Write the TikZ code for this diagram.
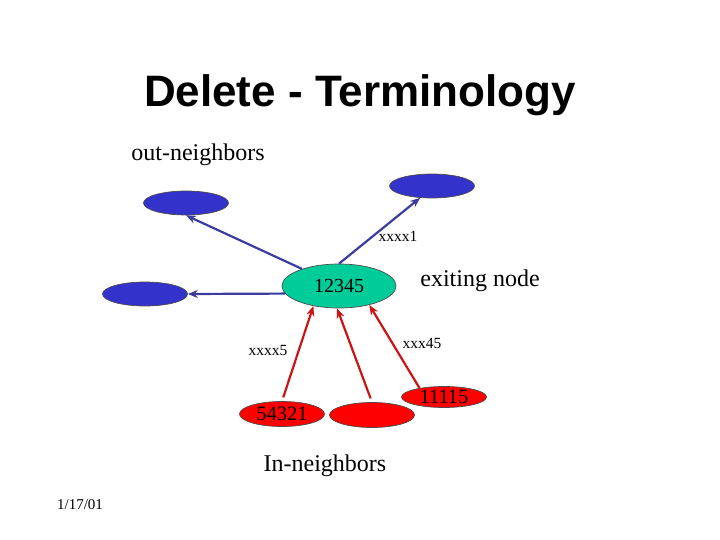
\documentclass[tikz,border=0pt]{standalone}
\usepackage{fontspec}
\setmainfont{Liberation Serif}
\newfontfamily\titlefont{Liberation Sans}
\usetikzlibrary{shapes.geometric,arrows.meta}
\definecolor{nodeblue}{RGB}{51,51,204}
\definecolor{edgeblue}{RGB}{60,60,160}
\definecolor{nodegreen}{RGB}{0,204,153}
\definecolor{nodered}{RGB}{255,0,0}
\definecolor{edgered}{RGB}{204,20,20}
\tikzset{
  blob/.style={ellipse, draw=black!70, line width=0.7pt, inner sep=0pt},
  outn/.style={blob, fill=nodeblue, minimum width=85pt, minimum height=24pt},
  innb/.style={blob, fill=nodered, minimum width=85pt, minimum height=25pt, font=\fontsize{20.5}{20.5}\selectfont},
  bluearrow/.style={draw=edgeblue, line width=2.2pt, -{Stealth[length=10pt,width=8pt]}},
  redarrow/.style={draw=edgered, line width=2.2pt, -{Stealth[length=10pt,width=8pt]}},
  lbl/.style={font=\fontsize{15.5}{15.5}\selectfont, inner sep=0pt},
  big/.style={font=\fontsize{24}{24}\selectfont, inner sep=0pt}
}
\begin{document}
\begin{tikzpicture}[x=1pt,y=-1pt]
\useasboundingbox (0,0) rectangle (720,540);
\node[font=\titlefont\bfseries\fontsize{44}{44}\selectfont, inner sep=0pt] (title) at (360,95) {Delete - Terminology};
\node[big] (outlbl) at (198,155) {out-neighbors};
\node[outn] (tl) at (186,203) {};
\node[outn] (tr) at (432,186) {};
\node[outn] (l) at (145,294) {};
\node[blob, fill=nodegreen, minimum width=114pt, minimum height=44pt, font=\fontsize{20}{20}\selectfont] (g) at (339,286) {12345};
\node[big] (exit) at (480,281) {exiting node};
\node[innb] (r1) at (282,414) {54321};
\node[innb] (r2) at (372,415) {};
\node[innb, minimum height=21pt] (r3) at (444,397) {11115};
\node[lbl] (x1) at (398,236) {xxxx1};
\node[lbl] (x45) at (422,343) {xxx45};
\node[lbl] (x5) at (268,350) {xxxx5};
\node[big] (inlbl) at (325,466) {In-neighbors};
\node[font=\fontsize{15}{15}\selectfont, inner sep=0pt] (date) at (80,505) {1/17/01};
\draw[bluearrow] (g) -- (tl.south);
\draw[bluearrow] (g.north) -- (tr.225);
\draw[bluearrow] (g.188) -- (l.east);
\draw[redarrow, shorten <=4pt] (r1.north) -- (g.218);
\draw[redarrow, shorten <=4pt] (r2.north) -- (g.265);
\draw[redarrow] (r3.160) -- (g.328);
\end{tikzpicture}
\end{document}
